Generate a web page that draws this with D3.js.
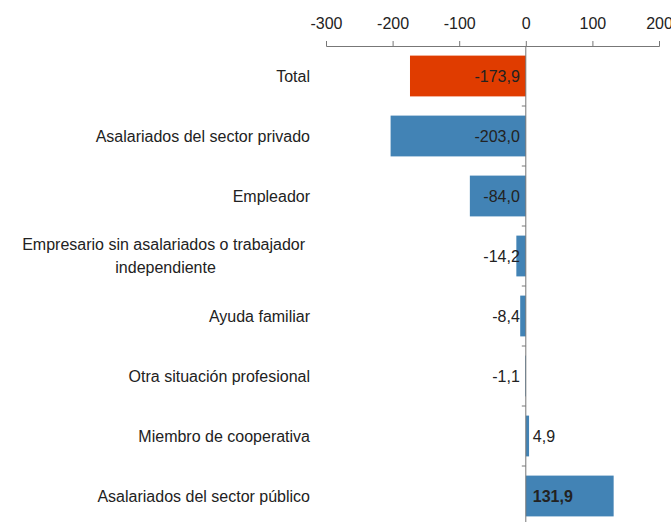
<!DOCTYPE html>
<html>
<head>
<meta charset="utf-8">
<script src="https://cdn.jsdelivr.net/npm/d3@7"></script>
<style>
  body { margin: 0; background: #fff; }
  text { font-family: "Liberation Sans", Arial, sans-serif; fill: #222; }
</style>
</head>
<body>
<svg width="671" height="523"></svg>
<script>
// categories top to bottom, values and which bar is highlighted
var categories = [
  "Total",
  "Asalariados del sector privado",
  "Empleador",
  "Empresario sin asalariados o trabajador|independiente",
  "Ayuda familiar",
  "Otra situación profesional",
  "Miembro de cooperativa",
  "Asalariados del sector público"
];
var values = [-173.9, -203.0, -84.0, -14.2, -8.4, -1.1, 4.9, 131.9];
var highlight = ["Total"];
var xTicks = [-300, -200, -100, 0, 100, 200];

var svg = d3.select("svg");

var x = d3.scaleLinear().domain([-300, 200]).range([326, 659]);
var y = d3.scaleBand().domain(categories).range([46, 526]).paddingInner(0.32).paddingOuter(0.16);

// plain hyphen and decimal comma like the original
var fmt = function(v) { return v.toFixed(1).replace(".", ","); };

// top axis
var xAxis = svg.append("g")
    .attr("transform", "translate(0,46)")
    .call(d3.axisTop(x).tickValues(xTicks).tickSize(5).tickPadding(12)
      .tickFormat(function(d) { return String(d); }));
xAxis.selectAll("path, line").attr("stroke", "#777");
xAxis.selectAll("text").attr("font-size", 16).style("fill", "#222")
    .style("font-family", "Liberation Sans, Arial, sans-serif");

// bars
svg.append("g").selectAll("rect")
  .data(values)
  .enter().append("rect")
    .attr("x", function(d) { return x(Math.min(0, d)); })
    .attr("width", function(d) { return Math.abs(x(d) - x(0)); })
    .attr("y", function(d, i) { return y(categories[i]); })
    .attr("height", y.bandwidth())
    .attr("fill", function(d, i) {
      return highlight.indexOf(categories[i]) >= 0 ? "#e03c00" : "#4283b5";
    });

// zero line with small category ticks
var yAxis = svg.append("g")
    .attr("transform", "translate(" + x(0) + ",0)");
yAxis.append("line")
    .attr("y1", 46).attr("y2", 522)
    .attr("stroke", "#777");
yAxis.selectAll(".tk")
  .data(categories.slice(1))
  .enter().append("line")
    .attr("x1", -4).attr("x2", 0)
    .attr("y1", function(d) { return y(d) - y.step() * y.paddingInner() / 2; })
    .attr("y2", function(d) { return y(d) - y.step() * y.paddingInner() / 2; })
    .attr("stroke", "#777");

// value labels
svg.append("g").selectAll("text")
  .data(values)
  .enter().append("text")
    .attr("x", function(d) { return d < 0 ? x(0) - 6 : x(0) + 7; })
    .attr("y", function(d, i) { return y(categories[i]) + y.bandwidth() / 2; })
    .attr("dy", "0.35em")
    .attr("text-anchor", function(d) { return d < 0 ? "end" : "start"; })
    .attr("font-size", 16)
    .attr("font-weight", function(d) { return d > 100 ? "bold" : "normal"; })
    .text(fmt);

// category labels
var lab = svg.append("g").selectAll("text")
  .data(categories)
  .enter().append("text")
    .attr("font-size", 16)
    .attr("y", function(d) { return y(d) + y.bandwidth() / 2; });

lab.each(function(d) {
  var t = d3.select(this);
  var parts = d.split("|");
  if (parts.length == 1) {
    t.attr("x", 310).attr("dy", "0.35em").attr("text-anchor", "end").text(d);
  } else {
    var first = t.append("tspan").attr("x", 305).attr("dy", "-0.35em")
        .attr("text-anchor", "end").text(parts[0]);
    var w = first.node().getComputedTextLength();
    t.append("tspan").attr("x", 305 - w / 2 + 2).attr("dy", "1.4em")
        .attr("text-anchor", "middle").text(parts[1]);
  }
});
</script>
</body>
</html>
